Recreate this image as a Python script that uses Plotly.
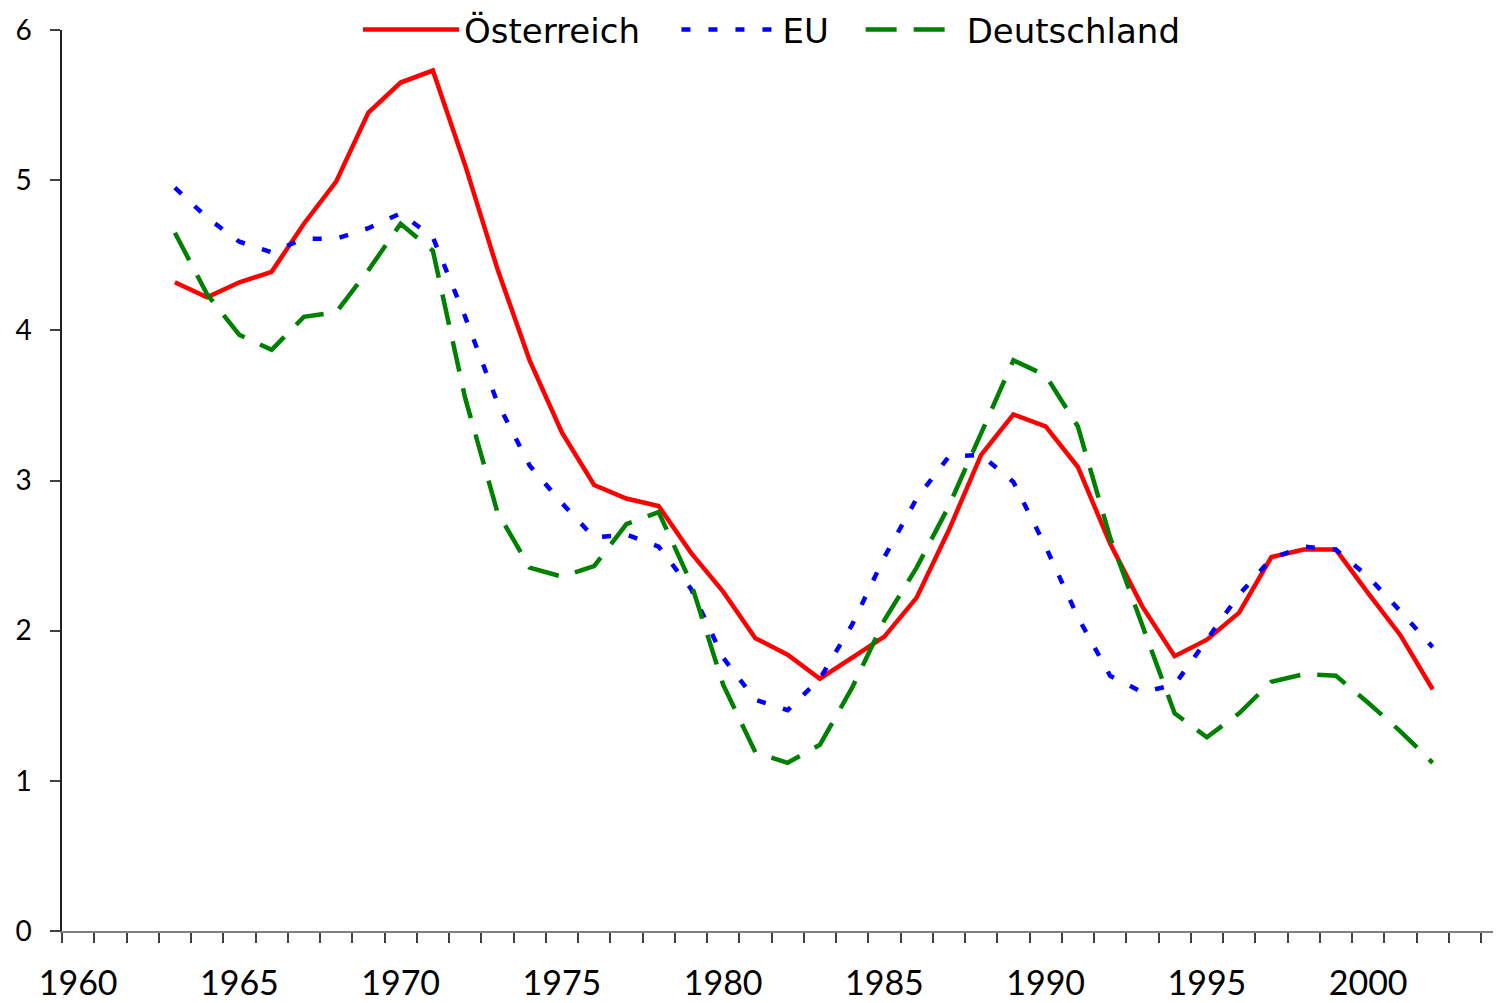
import plotly.graph_objects as go

# years shown on the chart
years = list(range(1963, 2003))

# Österreich (solid red)
oesterreich = [4.32, 4.22, 4.32, 4.39, 4.71, 4.99, 5.45, 5.65, 5.73, 5.10,
               4.41, 3.80, 3.32, 2.97, 2.88, 2.83, 2.52, 2.26, 1.95, 1.84,
               1.68, 1.82, 1.96, 2.22, 2.67, 3.17, 3.44, 3.36, 3.09, 2.58,
               2.16, 1.83, 1.94, 2.12, 2.49, 2.54, 2.54, 2.25, 1.97, 1.61]

# EU (blue dotted)
eu = [4.95, 4.75, 4.59, 4.52, 4.61, 4.61, 4.68, 4.78, 4.62, 4.09,
      3.52, 3.10, 2.85, 2.62, 2.64, 2.56, 2.28, 1.82, 1.54, 1.47,
      1.68, 2.04, 2.49, 2.88, 3.16, 3.17, 2.99, 2.56, 2.09, 1.70,
      1.59, 1.64, 1.94, 2.24, 2.48, 2.56, 2.54, 2.36, 2.13, 1.89]

# Deutschland (green dashed)
deutschland = [4.65, 4.24, 3.97, 3.87, 4.09, 4.12, 4.40, 4.71, 4.53, 3.55,
               2.79, 2.42, 2.36, 2.43, 2.71, 2.79, 2.32, 1.64, 1.19, 1.12,
               1.24, 1.62, 2.07, 2.42, 2.83, 3.32, 3.80, 3.70, 3.36, 2.62,
               2.03, 1.45, 1.29, 1.45, 1.66, 1.71, 1.70, 1.52, 1.33, 1.12]

xtick_vals = [1960, 1965, 1970, 1975, 1980, 1985, 1990, 1995, 2000]
xtick_text = [str(v) for v in xtick_vals]
ytick_vals = [0, 1, 2, 3, 4, 5, 6]

tick_font = "Century Gothic, URW Gothic, Lato, sans-serif"
legend_font = "Century Gothic, URW Gothic, DejaVu Sans, sans-serif"

fig = go.Figure()
fig.add_trace(go.Scatter(x=years, y=oesterreich, name="Österreich", mode="lines",
                         line=dict(color="#ff0000", width=4.5), legend="legend"))
fig.add_trace(go.Scatter(x=years, y=eu, name="EU", mode="lines",
                         line=dict(color="#0000ff", width=4.5, dash="9px,18px"),
                         legend="legend2"))
fig.add_trace(go.Scatter(x=years, y=deutschland, name="Deutschland", mode="lines",
                         line=dict(color="#008000", width=4.5, dash="31px,17px"),
                         legend="legend3"))

# one legend box per series, placed like the original legend row
leg = dict(orientation="h", y=1.0, yanchor="middle", xanchor="left",
           font=dict(size=34, family=legend_font), itemwidth=96,
           bgcolor="rgba(255,255,255,0)")

# the page body has an 8px margin, so the figure is 8px smaller each way
fig.update_layout(
    width=1493, height=995,
    margin=dict(l=54, r=0, t=22, b=72, autoexpand=False),
    paper_bgcolor="white", plot_bgcolor="white",
    font=dict(family=tick_font, color="black"),
    showlegend=True,
    legend=dict(leg, x=0.2057),
    legend2=dict(leg, x=0.4270),
    legend3=dict(leg, x=0.5550),
    xaxis=dict(
        range=[1959.5, 2004.12],
        tickmode="array", tickvals=xtick_vals, ticktext=xtick_text,
        ticks="", showgrid=False, zeroline=False,
        showline=True, linecolor="#808080", linewidth=1.5,
        tickfont=dict(size=34), ticklabelstandoff=21,
        minor=dict(tickmode="array", tickvals=[1959.5 + i for i in range(45)],
                   ticks="outside", ticklen=10, tickwidth=1.5, tickcolor="#404040",
                   showgrid=False),
    ),
    yaxis=dict(
        range=[0, 6], tickmode="array", tickvals=ytick_vals,
        ticks="outside", ticklen=10, tickwidth=1.5, tickcolor="#404040",
        showgrid=False, zeroline=False,
        showline=True, linecolor="#202020", linewidth=1.5,
        tickfont=dict(size=28), ticklabelstandoff=13,
    ),
)

fig.write_html("out.html")
